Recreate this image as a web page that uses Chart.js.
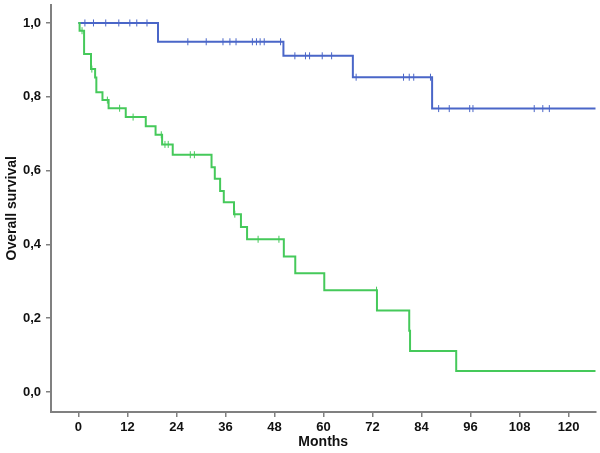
<!DOCTYPE html>
<html>
<head>
<meta charset="utf-8">
<script src="https://cdn.jsdelivr.net/npm/chart.js@4"></script>
<style>
  html, body { margin: 0; padding: 0; background: #fff; }
  #wrap { width: 600px; height: 453px; }
</style>
</head>
<body>
<div id="wrap"><canvas id="kmChart" width="600" height="453"></canvas></div>
<script>
// axis ticks
const xTicks = [0, 12, 24, 36, 48, 60, 72, 84, 96, 108, 120];
const yTicks = [0, 0.2, 0.4, 0.6, 0.8, 1.0];

// blue group: step times (months) and survival after each step
const blueTimes = [0, 19.5, 50.2, 67.2, 86.6, 127];
const blueSurv = [1.0, 0.949, 0.911, 0.853, 0.768, 0.768];
const blueCensored = [1.6, 3.7, 6.7, 9.9, 12.6, 14.3, 16.8, 26.8, 31.3, 35.4, 37.1, 38.6,
  42.6, 43.6, 44.5, 45.5, 49.5, 53.0, 55.6, 56.6, 59.7, 62.0, 68.0, 79.6, 81.0, 82.1,
  86.2, 88.2, 90.8, 95.8, 96.6, 111.6, 113.7, 115.3];

// green group
const greenTimes = [0, 0.3, 1.4, 3.1, 4.1, 4.4, 5.9, 7.4, 11.6, 16.5, 18.9, 20.5, 23.1,
  32.6, 33.4, 34.7, 35.6, 38.1, 39.8, 41.3, 50.3, 53.1, 60.2, 73.1, 81.0, 81.2, 92.5, 127];
const greenSurv = [1.0, 0.979, 0.916, 0.875, 0.852, 0.812, 0.791, 0.769, 0.745, 0.720, 0.697,
  0.671, 0.643, 0.609, 0.578, 0.545, 0.514, 0.482, 0.447, 0.414, 0.367, 0.322, 0.276, 0.221,
  0.166, 0.111, 0.057, 0.057];
const greenCensored = [0.9, 3.3, 7.1, 10.1, 13.4, 20.3, 21.2, 22.0, 27.4, 28.4, 38.3, 44.0, 49.1, 73.0];

const blueColor = '#4a66c8';
const greenColor = '#45c95a';
const axisColor = '#808080';

function stepPoints(times, surv) {
  return times.map((t, i) => ({ x: t, y: surv[i] }));
}

// survival level at time t (last step at or before t)
function levelAt(times, surv, t) {
  let s = surv[0];
  for (let i = 0; i < times.length; i++) {
    if (times[i] <= t) s = surv[i];
  }
  return s;
}

function censorPoints(times, surv, cens) {
  return cens.map(t => ({ x: t, y: levelAt(times, surv, t) }));
}

function censorSet(data, color) {
  return {
    data: data,
    showLine: false,
    pointStyle: 'line',
    rotation: 90,
    pointRadius: 3.5,
    pointHoverRadius: 3.5,
    borderColor: color,
    backgroundColor: color,
    pointBorderWidth: 1
  };
}

const ctx = document.getElementById('kmChart').getContext('2d');
new Chart(ctx, {
  type: 'line',
  data: {
    datasets: [
      {
        data: stepPoints(greenTimes, greenSurv),
        stepped: true,
        borderColor: greenColor,
        borderWidth: 2,
        pointRadius: 0,
        fill: false
      },
      {
        data: stepPoints(blueTimes, blueSurv),
        stepped: true,
        borderColor: blueColor,
        borderWidth: 2,
        pointRadius: 0,
        fill: false
      },
      censorSet(censorPoints(greenTimes, greenSurv, greenCensored), greenColor),
      censorSet(censorPoints(blueTimes, blueSurv, blueCensored), blueColor)
    ]
  },
  options: {
    responsive: false,
    animation: false,
    layout: { padding: { top: 0, right: 2, left: 0, bottom: 0 } },
    plugins: {
      legend: { display: false },
      tooltip: { enabled: false }
    },
    scales: {
      x: {
        type: 'linear',
        min: -6.7,
        max: 126.6,
        afterBuildTicks: scale => { scale.ticks = xTicks.map(v => ({ value: v })); },
        afterFit: scale => {
          scale.height = 41;
          scale.paddingLeft = 0;
          scale.paddingRight = 0;
        },
        ticks: {
          color: '#111',
          font: { family: 'Liberation Sans, Arial, sans-serif', size: 13, weight: 'bold' },
          padding: 3,
          maxRotation: 0
        },
        grid: {
          display: true,
          drawOnChartArea: false,
          drawTicks: true,
          tickLength: 5,
          color: axisColor,
          lineWidth: 1.5
        },
        border: { display: true, color: axisColor, width: 2 },
        title: {
          display: true,
          text: 'Months',
          color: '#111',
          font: { family: 'Liberation Sans, Arial, sans-serif', size: 14, weight: 'bold' },
          padding: { top: 0, bottom: 2 }
        }
      },
      y: {
        type: 'linear',
        min: -0.054,
        max: 1.050,
        afterBuildTicks: scale => { scale.ticks = yTicks.map(v => ({ value: v })); },
        afterFit: scale => {
          scale.width = 51;
          scale.paddingTop = 0;
          scale.paddingBottom = 0;
        },
        ticks: {
          color: '#111',
          font: { family: 'Liberation Sans, Arial, sans-serif', size: 13, weight: 'bold' },
          padding: 5,
          callback: v => v.toFixed(1).replace('.', ',')
        },
        grid: {
          display: true,
          drawOnChartArea: false,
          drawTicks: true,
          tickLength: 5,
          color: axisColor,
          lineWidth: 1.5
        },
        border: { display: true, color: axisColor, width: 2 },
        title: {
          display: true,
          text: 'Overall survival',
          color: '#111',
          font: { family: 'Liberation Sans, Arial, sans-serif', size: 14, weight: 'bold' },
          padding: { top: 4, bottom: 0 }
        }
      }
    }
  }
});
</script>
</body>
</html>
